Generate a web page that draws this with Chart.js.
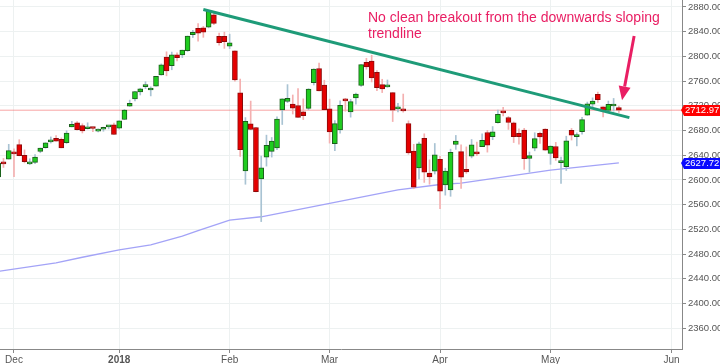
<!DOCTYPE html>
<html>
<head>
<meta charset="utf-8">
<script src="https://cdn.jsdelivr.net/npm/chart.js@4.4.1/dist/chart.umd.min.js"></script>
<style>
  html, body { margin: 0; padding: 0; background: #fff; }
  #wrap { width: 720px; height: 364px; position: relative; }
</style>
</head>
<body>
<div id="wrap"><canvas id="spxChart"></canvas></div>
<script>
// trading days shown on the chart
const dates = ['Nov 28','Nov 29','Nov 30','Dec 1','Dec 4','Dec 5','Dec 6','Dec 7','Dec 8','Dec 11','Dec 12','Dec 13','Dec 14','Dec 15','Dec 18','Dec 19','Dec 20','Dec 21','Dec 22','Dec 26','Dec 27','Dec 28','Dec 29',
  'Jan 2','Jan 3','Jan 4','Jan 5','Jan 8','Jan 9','Jan 10','Jan 11','Jan 12','Jan 16','Jan 17','Jan 18','Jan 19','Jan 22','Jan 23','Jan 24','Jan 25','Jan 26','Jan 29','Jan 30','Jan 31',
  'Feb 1','Feb 2','Feb 5','Feb 6','Feb 7','Feb 8','Feb 9','Feb 12','Feb 13','Feb 14','Feb 15','Feb 16','Feb 20','Feb 21','Feb 22','Feb 23','Feb 26','Feb 27','Feb 28',
  'Mar 1','Mar 2','Mar 5','Mar 6','Mar 7','Mar 8','Mar 9','Mar 12','Mar 13','Mar 14','Mar 15','Mar 16','Mar 19','Mar 20','Mar 21','Mar 22','Mar 23','Mar 26','Mar 27','Mar 28','Mar 29',
  'Apr 2','Apr 3','Apr 4','Apr 5','Apr 6','Apr 9','Apr 10','Apr 11','Apr 12','Apr 13','Apr 16','Apr 17','Apr 18','Apr 19','Apr 20','Apr 23','Apr 24','Apr 25','Apr 26','Apr 27','Apr 30',
  'May 1','May 2','May 3','May 4','May 7','May 8','May 9','May 10','May 11','May 14','May 15','May 16','May 17','May 18'];
// empty space on the right of the last candle
const futureDates = ['May 21','May 22','May 23','May 24','May 25','May 28','May 29','May 30','May 31','Jun 1','Jun 4','Jun 5','Jun 6'];

const opens = [2605.0,2627.8,2633.9,2645.1,2657.2,2639.8,2626.2,2628.4,2646.2,2652.2,2661.7,2667.6,2665.9,2660.6,2685.9,2692.7,2688.2,2683.0,2684.2,2679.1,2682.1,2686.1,2689.2,
  2683.7,2697.9,2719.3,2731.3,2742.7,2751.2,2745.6,2752.0,2770.2,2799.0,2785.0,2802.4,2802.6,2809.2,2835.1,2845.4,2846.2,2847.5,2867.2,2832.7,2832.4,
  2816.5,2808.9,2741.1,2614.8,2691.0,2685.0,2601.8,2636.8,2646.3,2652.0,2713.5,2727.1,2723.0,2720.5,2710.4,2715.8,2757.4,2780.5,2753.8,
  2715.2,2658.9,2681.1,2730.2,2710.2,2732.8,2752.9,2790.5,2792.3,2774.1,2754.3,2750.6,2741.4,2715.1,2715.0,2691.4,2646.7,2619.4,2667.6,2611.3,2614.4,
  2633.5,2592.2,2584.0,2657.4,2645.8,2617.2,2638.4,2643.9,2653.8,2676.9,2670.1,2692.7,2710.1,2701.2,2692.6,2675.4,2680.8,2634.9,2651.7,2675.5,2682.5,
  2643.0,2654.2,2628.1,2621.5,2680.3,2670.3,2678.1,2705.0,2722.7,2738.5,2718.6,2712.6,2719.7,2717.4];
const highs = [2627.7,2634.9,2657.7,2650.6,2665.2,2648.7,2634.4,2641.0,2651.7,2660.3,2669.7,2671.9,2668.1,2679.6,2695.0,2694.4,2691.0,2692.6,2685.4,2682.7,2685.6,2687.7,2692.1,
  2695.9,2714.4,2729.3,2743.5,2748.5,2759.1,2750.8,2767.6,2787.9,2807.5,2807.0,2805.8,2810.3,2833.0,2842.2,2853.0,2848.6,2872.9,2870.6,2837.8,2839.3,
  2836.0,2808.9,2763.4,2701.0,2727.7,2685.3,2638.7,2672.6,2668.8,2702.1,2731.5,2754.4,2737.6,2747.8,2731.3,2747.8,2780.0,2789.1,2761.5,
  2730.9,2696.3,2728.1,2732.1,2730.6,2740.5,2786.6,2797.0,2801.9,2777.1,2763.0,2761.9,2741.4,2724.2,2739.1,2695.7,2657.7,2661.4,2674.8,2632.7,2659.1,
  2638.3,2619.1,2649.9,2672.1,2656.9,2653.6,2665.5,2661.4,2674.7,2680.3,2686.5,2713.3,2717.5,2702.8,2693.9,2682.9,2683.6,2645.3,2676.5,2677.4,2682.9,
  2655.3,2660.9,2637.1,2670.9,2683.4,2676.3,2701.3,2726.1,2732.9,2742.1,2718.6,2727.8,2732.0,2719.5];
const lows = [2605.4,2620.3,2633.9,2605.5,2639.0,2627.7,2624.8,2626.5,2644.1,2651.5,2659.8,2662.9,2652.0,2659.1,2685.9,2680.7,2676.1,2682.4,2678.1,2678.0,2678.9,2682.7,2673.6,
  2682.4,2697.8,2719.1,2727.9,2737.6,2747.9,2736.1,2752.0,2769.6,2768.6,2778.4,2792.6,2798.1,2808.1,2830.6,2824.8,2830.9,2846.2,2851.5,2818.3,2813.0,
  2812.7,2760.0,2638.2,2593.1,2681.3,2580.6,2532.7,2622.5,2637.1,2648.9,2689.8,2725.1,2706.8,2701.3,2697.8,2713.7,2753.8,2744.2,2713.5,
  2659.7,2647.3,2675.8,2711.3,2701.7,2722.7,2751.5,2779.3,2758.7,2744.4,2741.5,2750.0,2694.6,2710.1,2709.8,2641.6,2585.9,2601.8,2596.1,2593.1,2609.7,
  2553.8,2575.5,2573.6,2649.6,2586.3,2610.8,2635.8,2639.3,2653.8,2645.1,2665.2,2692.1,2703.6,2681.9,2660.6,2658.0,2617.3,2612.7,2647.2,2659.0,2648.0,
  2625.4,2631.7,2594.6,2615.3,2664.7,2655.2,2674.1,2704.5,2717.5,2725.5,2701.9,2712.2,2711.4,2709.2];
const closes = [2627.0,2626.1,2647.6,2642.2,2639.4,2629.6,2629.3,2637.0,2651.5,2660.0,2664.1,2662.9,2652.0,2675.8,2690.2,2681.5,2679.3,2684.6,2683.3,2680.5,2682.6,2687.5,2673.6,
  2695.8,2713.1,2724.0,2743.2,2747.7,2751.3,2748.2,2767.6,2786.2,2776.4,2802.6,2798.0,2810.3,2833.0,2839.1,2837.5,2839.3,2872.9,2853.5,2822.4,2823.8,
  2822.0,2762.1,2648.9,2695.1,2681.7,2581.0,2619.6,2656.0,2662.9,2698.6,2731.2,2732.2,2716.3,2701.3,2704.0,2747.3,2779.6,2744.3,2713.8,
  2677.7,2691.3,2720.9,2728.1,2726.8,2739.0,2786.6,2783.0,2765.3,2749.5,2747.3,2752.0,2712.9,2716.9,2711.9,2643.7,2588.3,2658.6,2612.6,2605.0,2640.9,
  2581.9,2614.5,2644.7,2662.8,2604.5,2613.2,2656.9,2642.2,2664.0,2656.3,2677.8,2706.4,2708.6,2693.1,2670.1,2670.3,2634.6,2639.4,2666.9,2669.9,2648.1,
  2654.8,2635.7,2629.7,2663.4,2672.6,2671.9,2697.8,2723.1,2727.7,2730.1,2711.5,2722.5,2720.1,2712.97];

// 200 day moving average, read at a few dates
const maDates = ['Nov 28','Dec 13','Dec 20','Jan 2','Jan 10','Jan 19','Jan 24','Feb 1','Feb 9','Mar 1','Mar 20','Apr 2','Apr 6','May 1','May 18'];
const maValues = [2452,2466,2475,2487,2495,2509,2518,2535,2540.5,2562,2584,2592.7,2595,2616,2627.72];

// hand drawn trendline (date, value)
const trendDates = ['Jan 25','May 22'];
const trendValues = [2876,2701];

const yTicks = [2360,2400,2440,2480,2520,2560,2600,2640,2680,2720,2760,2800,2840,2880];
const monthTickDates = ['Dec 1','Jan 2','Feb 1','Mar 1','Apr 2','May 1','Jun 1'];
const monthTickLabels = ['Dec','2018','Feb','Mar','Apr','May','Jun'];

const noteLines = ['No clean breakout from the downwards sloping', 'trendline'];

const allDates = dates.concat(futureDates);
const idx = d => allDates.indexOf(d);
const lastClose = closes[closes.length - 1];
const lastMa = maValues[maValues.length - 1];

const upFill = '#1fcc1f', upLine = '#1b5e1b', upWick = '#a9c3d3';
const dnFill = '#e50000', dnLine = '#8c0a0a', dnWick = '#f4b0b0';
const isUp = dates.map((d, i) => closes[i] >= opens[i]);

const pink = '#e91e63';
const axisFont = '"Liberation Sans", Arial, sans-serif';

const overlay = {
    id: 'overlay',
    afterDraw(chart) {
        const ctx = chart.ctx;
        const xs = chart.scales.x, ys = chart.scales.y;
        const area = chart.chartArea;

        // note text
        ctx.save();
        ctx.fillStyle = pink;
        ctx.font = '14px ' + axisFont;
        ctx.textBaseline = 'middle';
        noteLines.forEach((t, i) => ctx.fillText(t, 368, 18 + i * 16));

        // arrow pointing at the last candle
        const tip = { x: xs.getPixelForValue(dates.length - 1 + 0.6), y: ys.getPixelForValue(2729) };
        const tail = { x: xs.getPixelForValue(dates.length - 1 + 2.9), y: ys.getPixelForValue(2833) };
        const ang = Math.atan2(tip.y - tail.y, tip.x - tail.x);
        const headLen = 14, headW = 6;
        const bx = tip.x - headLen * Math.cos(ang), by = tip.y - headLen * Math.sin(ang);
        ctx.strokeStyle = pink;
        ctx.lineWidth = 3;
        ctx.beginPath();
        ctx.moveTo(tail.x, tail.y);
        ctx.lineTo(bx, by);
        ctx.stroke();
        ctx.beginPath();
        ctx.moveTo(tip.x, tip.y);
        ctx.lineTo(bx + headW * Math.sin(ang), by - headW * Math.cos(ang));
        ctx.lineTo(bx - headW * Math.sin(ang), by + headW * Math.cos(ang));
        ctx.closePath();
        ctx.fill();

        // value boxes on the price axis
        [[lastClose, '#ff0000'], [lastMa, '#0a0aff']].forEach(([v, col]) => {
            const y = Math.round(ys.getPixelForValue(v));
            ctx.fillStyle = col;
            ctx.beginPath();
            ctx.moveTo(area.right - 1, y);
            ctx.lineTo(area.right + 2, y - 5);
            ctx.lineTo(chart.width, y - 5);
            ctx.lineTo(chart.width, y + 6);
            ctx.lineTo(area.right + 2, y + 6);
            ctx.closePath();
            ctx.fill();
            ctx.fillStyle = '#fff';
            ctx.font = '9.5px ' + axisFont;
            ctx.textBaseline = 'middle';
            ctx.fillText(v.toFixed(2), area.right + 3, y + 0.5);
        });
        ctx.restore();
    }
};

const ctx = document.getElementById('spxChart').getContext('2d');
const spxChart = new Chart(ctx, {
    type: 'bar',
    data: {
        datasets: [
            {
                label: 'last',
                type: 'line',
                data: [{ x: 0, y: lastClose }, { x: allDates.length - 1, y: lastClose }],
                borderColor: 'rgba(240, 90, 90, 0.55)',
                borderWidth: 1,
                pointRadius: 0,
                order: 6
            },
            {
                label: 'MA200',
                type: 'line',
                data: maDates.map((d, i) => ({ x: idx(d), y: maValues[i] })),
                borderColor: '#a3a3f7',
                borderWidth: 1.3,
                pointRadius: 0,
                tension: 0,
                order: 5
            },
            {
                label: 'wicks',
                data: dates.map((d, i) => ({ x: i, y: [lows[i], highs[i]] })),
                backgroundColor: isUp.map(u => u ? upWick : dnWick),
                barThickness: 1,
                grouped: false,
                order: 3
            },
            {
                label: 'bodies',
                data: dates.map((d, i) => ({ x: i, y: [opens[i], closes[i]] })),
                backgroundColor: isUp.map(u => u ? upFill : dnFill),
                borderColor: isUp.map(u => u ? upLine : dnLine),
                borderWidth: 1,
                borderSkipped: false,
                barThickness: 5,
                minBarLength: 2,
                grouped: false,
                order: 2
            },
            {
                label: 'trend',
                type: 'line',
                data: trendDates.map((d, i) => ({ x: idx(d), y: trendValues[i] })),
                borderColor: '#1e9b78',
                borderWidth: 3,
                pointRadius: 0,
                order: 0
            }
        ]
    },
    options: {
        animation: false,
        responsive: true,
        maintainAspectRatio: false,
        layout: { padding: 0, autoPadding: false },
        plugins: { legend: { display: false }, tooltip: { enabled: false } },
        scales: {
            x: {
                type: 'linear',
                offset: false,
                min: 0.34,
                max: idx('Jun 5'),
                afterBuildTicks: s => { s.ticks = monthTickDates.map(d => ({ value: idx(d) })); },
                afterFit: s => { s.height = 15; s.paddingLeft = 0; s.paddingRight = 0; },
                grid: { color: '#edf1f1', offset: false, tickLength: 4, tickColor: '#888' },
                border: { color: '#888' },
                ticks: {
                    maxRotation: 0,
                    autoSkip: false,
                    padding: 1,
                    color: '#555',
                    font: c => ({ family: axisFont, size: 10, weight: c.tick && c.tick.label === '2018' ? 'bold' : 'normal' }),
                    callback: v => monthTickLabels[monthTickDates.map(idx).indexOf(v)]
                }
            },
            y: {
                position: 'right',
                min: 2326.5,
                max: 2891.3,
                afterBuildTicks: s => { s.ticks = yTicks.map(v => ({ value: v })); },
                afterFit: s => { s.width = 38; s.paddingTop = 0; s.paddingBottom = 0; },
                grid: { color: '#edf1f1', tickLength: 4, tickColor: '#888' },
                border: { color: '#888' },
                ticks: {
                    padding: 2,
                    color: '#555',
                    font: { family: axisFont, size: 9.5 },
                    callback: v => v.toFixed(2)
                }
            }
        }
    },
    plugins: [overlay]
});
</script>
</body>
</html>
